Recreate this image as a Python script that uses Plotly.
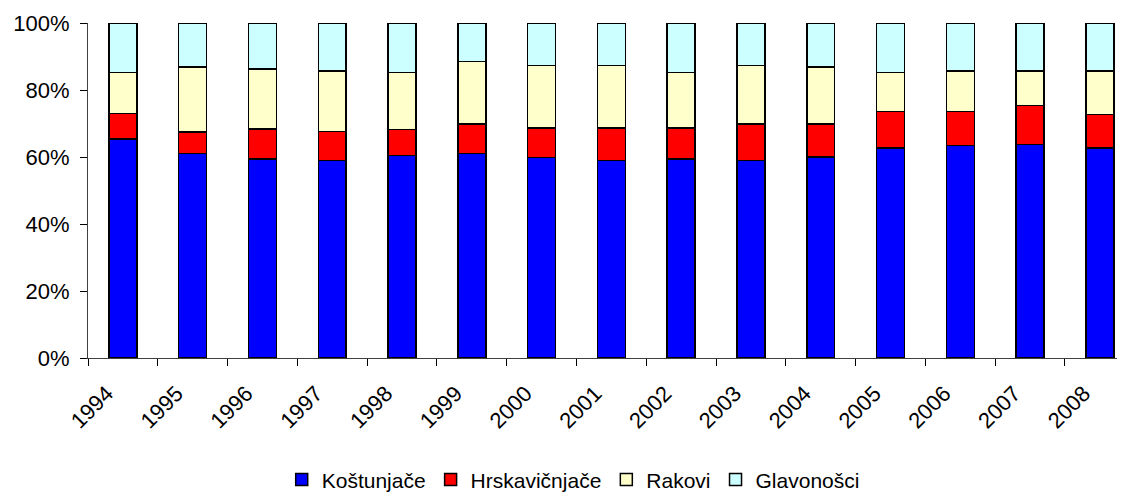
import plotly.graph_objects as go

years = ["1994", "1995", "1996", "1997", "1998", "1999", "2000", "2001",
         "2002", "2003", "2004", "2005", "2006", "2007", "2008"]
kostunjace = [65.4, 61.0, 59.4, 58.9, 60.5, 61.0, 59.9, 58.9, 59.4, 58.9, 60.0, 62.7, 63.4, 63.7, 62.7]
hrskavicnjace = [7.6, 6.5, 8.9, 8.7, 7.7, 8.9, 8.8, 9.8, 9.3, 11.0, 9.9, 10.9, 10.2, 11.7, 10.0]
rakovi = [12.2, 19.4, 17.9, 18.1, 17.0, 18.6, 18.6, 18.6, 16.5, 17.4, 17.0, 11.6, 12.1, 10.3, 13.0]
glavonosci = [14.8, 13.1, 13.8, 14.3, 14.8, 11.5, 12.7, 12.7, 14.8, 12.7, 13.1, 14.8, 14.3, 14.3, 14.3]

series = [
    ("Koštunjače", kostunjace, "#0000FF"),
    ("Hrskavičnjače", hrskavicnjace, "#FF0000"),
    ("Rakovi", rakovi, "#FFFFCC"),
    ("Glavonošci", glavonosci, "#CCFFFF"),
]

fig = go.Figure()
for name, vals, col in series:
    fig.add_trace(go.Bar(
        x=years, y=vals, name=name,
        marker=dict(color=col, line=dict(color="#000000", width=1.5)),
    ))

fig.update_layout(
    barmode="stack",
    bargap=0.6,
    width=1117, height=485,
    margin=dict(l=80, r=0, t=15, b=135),
    plot_bgcolor="white", paper_bgcolor="white",
    font=dict(family="Liberation Sans, Arial", size=22, color="#000000"),
    showlegend=True,
    legend=dict(
        orientation="h", traceorder="normal",
        xref="container", yref="container",
        x=0.506, xanchor="center", y=0.027, yanchor="middle",
        font=dict(size=21), itemwidth=30, tracegroupgap=0,
    ),
    xaxis=dict(
        range=[-0.5, 14.36],
        automargin=False,
        tickangle=-45,
        tickson="boundaries",
        ticks="outside", ticklen=7, tickcolor="#000000",
        showline=True, linecolor="#404040", linewidth=1,
        tickfont=dict(size=22),
        ticklabelstandoff=13,
        ticklabelshift=-16,
        showgrid=False,
    ),
    yaxis=dict(
        range=[0, 100],
        automargin=False,
        tickvals=[0, 20, 40, 60, 80, 100],
        ticktext=["0%", "20%", "40%", "60%", "80%", "100%"],
        ticks="outside", ticklen=7, tickcolor="#000000",
        showline=True, linecolor="#404040", linewidth=1,
        showgrid=False, zeroline=False,
        tickfont=dict(size=22),
        ticklabelstandoff=6,
    ),
)

fig.write_html("out.html")
